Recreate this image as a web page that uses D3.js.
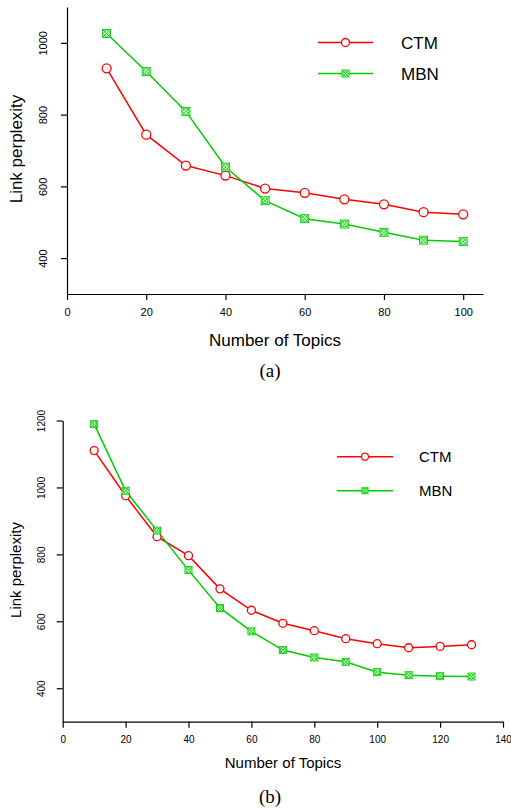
<!DOCTYPE html>
<html>
<head>
<meta charset="utf-8">
<script src="https://cdn.jsdelivr.net/npm/d3@7"></script>
<style>
  body { margin: 0; background: #fff; }
  text { font-family: "Liberation Sans", Arial, sans-serif; fill: #000; }
</style>
</head>
<body>
<div id="chart"></div>
<script>

// data
var topicsA = [10, 20, 30, 40, 50, 60, 70, 80, 90, 100];
var ctmA = [929, 744, 658, 630, 594, 582, 564, 550, 528, 522];
var mbnA = [1026, 920, 809, 654, 560, 510, 495, 472, 450, 446];
var xTicksA = [0, 20, 40, 60, 80, 100];
var yTicksA = [400, 600, 800, 1000];

var topicsB = [10, 20, 30, 40, 50, 60, 70, 80, 90, 100, 110, 120, 130];
var ctmB = [1110, 975, 853, 796, 697, 633, 594, 572, 548, 533, 521, 525, 530];
var mbnB = [1189, 990, 871, 753, 640, 570, 514, 492, 479, 448, 439, 436, 435];
var xTicksB = [0, 20, 40, 60, 80, 100, 120, 140];
var yTicksB = [400, 600, 800, 1000, 1200];

var seriesNames = ["CTM", "MBN"];
var red = "#ff0000", green = "#00cd00";

var svg = d3.select("#chart")
  .append("svg")
    .attr("width", 511)
    .attr("height", 810);

// circle marker for CTM, boxed cross + circle for MBN
function ctmMarker(g, cx, cy, r) {
  g.append("circle")
    .attr("cx", cx).attr("cy", cy).attr("r", r)
    .attr("fill", "white").attr("stroke", red).attr("stroke-width", 1.3);
}
function mbnMarker(g, cx, cy, s) {
  var m = g.append("g").attr("stroke", green).attr("stroke-width", 0.9).attr("fill", "white");
  m.append("rect").attr("x", cx - s).attr("y", cy - s).attr("width", 2 * s).attr("height", 2 * s);
  m.append("circle").attr("cx", cx).attr("cy", cy).attr("r", s * 0.75).attr("fill", "none");
  m.append("line").attr("x1", cx - s).attr("y1", cy - s).attr("x2", cx + s).attr("y2", cy + s);
  m.append("line").attr("x1", cx - s).attr("y1", cy + s).attr("x2", cx + s).attr("y2", cy - s);
}

function drawPanel(p) {
  var x = d3.scaleLinear().domain(p.xDomain).range(p.xRange);
  var y = d3.scaleLinear().domain(p.yDomain).range(p.yRange);
  var g = svg.append("g");

  // X axis
  var xa = g.append("g")
    .attr("transform", "translate(0," + p.yRange[0] + ")")
    .call(d3.axisBottom(x).tickValues(p.xTicks).tickFormat(d3.format("d"))
      .tickSize(6).tickSizeOuter(0).tickPadding(8));
  xa.selectAll("text").style("font-size", p.tickFont + "px").attr("fill", "#222");

  // Y axis, labels turned like R's default
  var ya = g.append("g")
    .attr("transform", "translate(" + p.xRange[0] + ",0)")
    .call(d3.axisLeft(y).tickValues(p.yTicks).tickFormat(d3.format("d"))
      .tickSize(6).tickSizeOuter(0));
  ya.selectAll("text")
    .attr("x", null).attr("dy", null)
    .attr("text-anchor", "middle")
    .attr("transform", "translate(" + (-p.yLabelOff) + ",0)rotate(-90)")
    .style("font-size", p.yTickFont + "px")
    .attr("fill", "#222");
  g.selectAll(".domain, .tick line").attr("stroke", "#000").attr("stroke-width", 1.2);

  // axis titles
  g.append("text")
    .attr("text-anchor", "middle")
    .attr("x", p.xTitle[0]).attr("y", p.xTitle[1])
    .style("font-size", p.titleFont + "px")
    .text("Number of Topics");
  g.append("text")
    .attr("text-anchor", "middle")
    .attr("transform", "translate(" + p.yTitle[0] + "," + p.yTitle[1] + ")rotate(-90)")
    .style("font-size", p.titleFont + "px")
    .text("Link perplexity");

  // caption
  g.append("text")
    .attr("text-anchor", "middle")
    .attr("x", p.caption[0]).attr("y", p.caption[1])
    .style("font-family", "'Liberation Serif', 'Times New Roman', serif")
    .style("font-size", "19px")
    .text(p.label);

  var line = d3.line()
    .x(function(d) { return x(d[0]); })
    .y(function(d) { return y(d[1]); });

  var ctm = d3.zip(p.topics, p.ctm);
  var mbn = d3.zip(p.topics, p.mbn);

  g.append("path").datum(ctm)
    .attr("d", line).attr("fill", "none").attr("stroke", red).attr("stroke-width", 1.5);
  g.append("path").datum(mbn)
    .attr("d", line).attr("fill", "none").attr("stroke", green).attr("stroke-width", 1.5);

  ctm.forEach(function(d) { ctmMarker(g, x(d[0]), y(d[1]), p.mark); });
  mbn.forEach(function(d) { mbnMarker(g, x(d[0]), y(d[1]), p.mark - 0.5); });

  // legend
  var lg = p.legend;
  seriesNames.forEach(function(name, i) {
    var ly = lg.y + i * lg.gap;
    var col = i === 0 ? red : green;
    g.append("line")
      .attr("x1", lg.x1).attr("x2", lg.x2).attr("y1", ly).attr("y2", ly)
      .attr("stroke", col).attr("stroke-width", 1.5);
    if (i === 0) ctmMarker(g, (lg.x1 + lg.x2) / 2, ly, p.mark - 0.5);
    else mbnMarker(g, (lg.x1 + lg.x2) / 2, ly, p.mark - 1);
    g.append("text")
      .attr("x", lg.tx).attr("y", ly)
      .attr("dy", "0.36em")
      .style("font-size", lg.font + "px")
      .text(name);
  });
}

drawPanel({
  topics: topicsA, ctm: ctmA, mbn: mbnA,
  xTicks: xTicksA, yTicks: yTicksA,
  xDomain: [0, 105], xRange: [67, 483],
  yDomain: [300, 1100], yRange: [294, 7],
  tickFont: 11, yTickFont: 11, yLabelOff: 20, titleFont: 17,
  xTitle: [275, 346], yTitle: [22, 149],
  caption: [270, 377], label: "(a)",
  mark: 4.5,
  legend: { x1: 318, x2: 373, y: 42.5, gap: 31, tx: 401, font: 17 }
});

drawPanel({
  topics: topicsB, ctm: ctmB, mbn: mbnB,
  xTicks: xTicksB, yTicks: yTicksB,
  xDomain: [0, 140], xRange: [62.7, 503],
  yDomain: [300, 1200], yRange: [721.7, 420.5],
  tickFont: 10, yTickFont: 10, yLabelOff: 18, titleFont: 15,
  xTitle: [283, 768], yTitle: [21, 570],
  caption: [270, 803], label: "(b)",
  mark: 4,
  legend: { x1: 337, x2: 393, y: 456.7, gap: 34, tx: 419, font: 15 }
});

</script>
</body>
</html>
